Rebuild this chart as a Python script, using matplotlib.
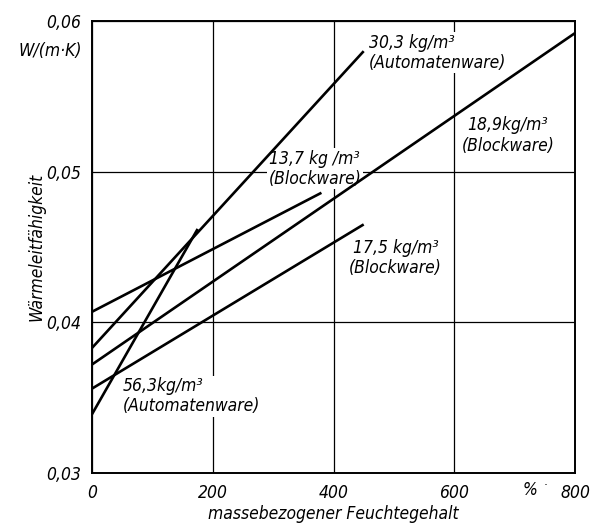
import numpy as np
import matplotlib
matplotlib.use("Agg")
import matplotlib.pyplot as plt
from matplotlib import font_manager

# pick a narrow font if one is there
fonts = font_manager.fontManager.ttflist
names = {f.name for f in fonts}
if 'Liberation Sans Narrow' in names:
    plt.rcParams['font.family'] = ['Liberation Sans Narrow', 'DejaVu Sans']
elif any(f.name == 'DejaVu Sans' and f.stretch == 'condensed' for f in fonts):
    plt.rcParams['font.family'] = ['DejaVu Sans']
    plt.rcParams['font.stretch'] = 'condensed'
else:
    plt.rcParams['font.family'] = ['DejaVu Sans']
plt.rcParams['font.style'] = 'italic'

# Feuchtegehalt (%) start/end, Waermeleitfaehigkeit W/(m K) start/end
x_start = [0, 0, 0, 0, 0]
x_end = [450, 175, 380, 800, 450]
lam_start = [0.0383, 0.0339, 0.0407, 0.0372, 0.0356]
lam_end = [0.0580, 0.0462, 0.0486, 0.0592, 0.0465]

labels = ['30,3 kg/m³\n(Automatenware)',
          '56,3kg/m³\n(Automatenware)',
          '13,7 kg /m³\n(Blockware)',
          '18,9kg/m³\n(Blockware)',
          '17,5 kg/m³\n(Blockware)']
label_x = [459, 51, 369, 689, 503]
label_y = [0.0579, 0.0351, 0.0502, 0.0524, 0.0443]
label_ha = ['left', 'left', 'center', 'center', 'center']

xticks = [0, 200, 400, 600, 800]
xticklabels = ['0', '200', '400', '600', '800']
yticks = [0.03, 0.04, 0.05, 0.06]
yticklabels = ['0,03', '0,04', '0,05', '0,06']

fig = plt.figure(figsize=(5.92, 5.26), dpi=100)
ax = fig.add_axes([0.1554, 0.1008, 0.8159, 0.8592])

for i in range(len(x_start)):
    ax.plot([x_start[i], x_end[i]], [lam_start[i], lam_end[i]],
            color='black', lw=1.9, zorder=3, solid_capstyle='butt')
    ax.text(label_x[i], label_y[i], labels[i], ha=label_ha[i], va='center',
            fontsize=12.5, linespacing=1.15, zorder=2,
            bbox=dict(facecolor='white', edgecolor='none', pad=1))

ax.set_xlim(0, 800)
ax.set_ylim(0.03, 0.06)
ax.set_xticks(xticks)
ax.set_xticklabels(xticklabels)
ax.set_yticks(yticks)
ax.set_yticklabels(yticklabels)
ax.tick_params(length=0, pad=8, labelsize=12.5)
ax.grid(True, color='black', lw=0.9)
ax.set_axisbelow(True)
for s in ax.spines.values():
    s.set_linewidth(1.4)

ax.text(725, -0.038, '%', transform=ax.get_xaxis_transform(),
        ha='center', va='center', fontsize=12.5)
ax.text(752, -0.028, '·', transform=ax.get_xaxis_transform(),
        ha='center', va='center', fontsize=9)
ax.text(-0.021, 0.058, 'W/(m·K)', ha='right', va='center', fontsize=12.5,
        transform=ax.get_yaxis_transform())

ax.set_xlabel('massebezogener Feuchtegehalt', fontsize=12.5, labelpad=2)
ax.set_ylabel('Wärmeleitfähigkeit', fontsize=12.5)
ax.yaxis.set_label_coords(-0.097, 0.5)

fig.savefig('out.png', dpi=100)
